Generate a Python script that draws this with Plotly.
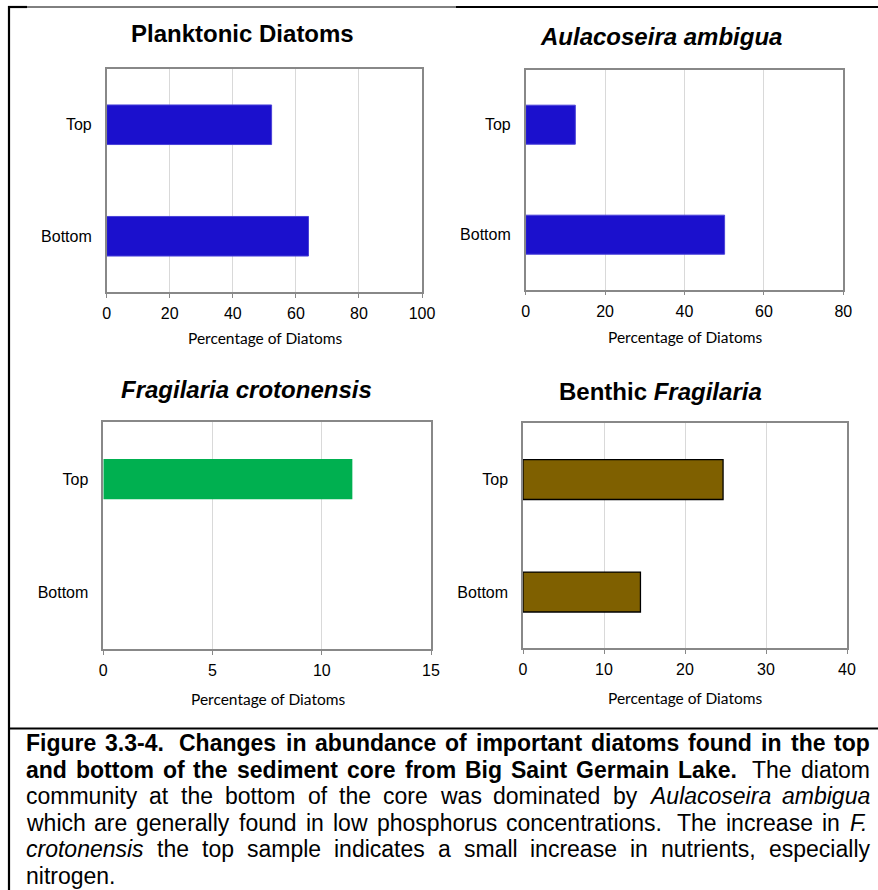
import plotly.graph_objects as go

# ---------------- data ----------------
categories = ["Bottom", "Top"]
planktonic = [64.0, 52.3]
aulacoseira = [50.1, 12.5]
crotonensis = [0.0, 11.4]
benthic = [14.5, 24.7]

titles = ["<b>Planktonic Diatoms</b>",
          "<b><i>Aulacoseira ambigua</i></b>",
          "<b><i>Fragilaria crotonensis</i></b>",
          "<b>Benthic <i>Fragilaria</i></b>"]
x_ranges = [[0, 100], [0, 80], [0, 15], [0, 40]]
x_dticks = [20, 20, 5, 10]
axis_title = "Percentage of Diatoms"

caption_lines = [
    [("b", "Figure 3.3-4.  Changes in abundance of important diatoms found in the top")],
    [("b", "and bottom of the sediment core from Big Saint Germain Lake."), ("r", "  The diatom")],
    [("r", "community at the bottom of the core was dominated by "), ("i", "Aulacoseira ambigua")],
    [("r", "which are generally found in low phosphorus concentrations.  The increase in "), ("i", "F.")],
    [("i", "crotonensis"), ("r", " the top sample indicates a small increase in nutrients, especially")],
    [("r", "nitrogen.")],
]

# ---------------- geometry helpers ----------------
W, H = 878, 890
def X(px):
    return px / W
def Y(py):
    return 1 - py / H

areas = [(106.7, 422.0, 69.0, 292.0),
         (525.7, 843.3, 69.7, 289.7),
         (103.3, 431.0, 422.3, 649.3),
         (523.0, 847.0, 423.3, 648.3)]
title_pos = [(242.5, 33), (660.5, 37), (246, 390), (660, 391)]
axtitle_pos = [(265, 338), (685, 337), (268, 699), (685, 698)]

series = [planktonic, aulacoseira, crotonensis, benthic]
colors = ["#1B10CD", "#1B10CD", "#00B050", "#7F6000"]
lines = [dict(color="#4a42d8", width=1), dict(color="#4a42d8", width=1),
         dict(color="#00B050", width=0), dict(color="#000000", width=1.3)]

FONT = "Liberation Sans, Arial, sans-serif"

fig = go.Figure()
for i, vals in enumerate(series):
    n = "" if i == 0 else str(i + 1)
    fig.add_trace(go.Bar(
        x=vals, y=categories, orientation="h",
        marker=dict(color=colors[i], line=lines[i]),
        xaxis="x" + n, yaxis="y" + n, hoverinfo="x+y",
    ))

layout = dict(
    width=W, height=H, autosize=False, margin=dict(l=0, r=0, t=0, b=0, pad=0),
    paper_bgcolor="white", plot_bgcolor="white", showlegend=False,
    bargap=0.645, font=dict(family=FONT, color="black"),
)
for i, (x0, x1, y0, y1) in enumerate(areas):
    n = "" if i == 0 else str(i + 1)
    layout["xaxis" + n] = dict(
        domain=[X(x0), X(x1)], anchor="y" + n, range=x_ranges[i], automargin=False,
        dtick=x_dticks[i], tick0=0, showgrid=True, gridcolor="#d9d9d9", gridwidth=1,
        showline=True, linecolor="#888888", linewidth=1.5, mirror=True,
        ticks="outside", ticklen=4, tickcolor="#888888", tickwidth=1,
        tickfont=dict(family=FONT, size=16, color="black"),
        ticklabelstandoff=2, zeroline=False, fixedrange=True,
    )
    layout["yaxis" + n] = dict(
        domain=[Y(y1), Y(y0)], anchor="x" + n, type="category", automargin=False,
        categoryorder="array", categoryarray=categories, range=[-0.5, 1.5],
        showgrid=False, showline=True, linecolor="#888888", linewidth=1.5, mirror=True,
        ticks="", tickfont=dict(family=FONT, size=16, color="black"),
        ticklabelstandoff=10, fixedrange=True,
    )

annotations = []
for i in range(4):
    tx, ty = title_pos[i]
    annotations.append(dict(text=titles[i], x=X(tx), y=Y(ty), xref="paper", yref="paper",
                            showarrow=False, xanchor="center", yanchor="middle",
                            font=dict(family=FONT, size=24, color="black")))
    ax, ay = axtitle_pos[i]
    annotations.append(dict(text=axis_title, x=X(ax), y=Y(ay), xref="paper", yref="paper",
                            showarrow=False, xanchor="center", yanchor="middle",
                            font=dict(family="Lato, Carlito, sans-serif", size=15.5, color="black")))

REG = dict(zip("ABCDEFGHIJKLMNOPQRSTUVWXYZ",
               [667, 667, 722, 722, 667, 611, 778, 722, 278, 500, 667, 556, 833, 722, 778,
                667, 778, 722, 667, 611, 722, 667, 944, 667, 667, 611]))
REG.update(zip("abcdefghijklmnopqrstuvwxyz",
               [556, 556, 500, 556, 556, 278, 556, 556, 222, 222, 500, 222, 833, 556, 556,
                556, 556, 333, 500, 278, 556, 500, 722, 500, 500, 500]))
BOLD = dict(zip("ABCDEFGHIJKLMNOPQRSTUVWXYZ",
                [722, 722, 722, 722, 667, 611, 778, 722, 278, 556, 722, 611, 833, 722, 778,
                 667, 778, 722, 667, 611, 722, 667, 944, 667, 667, 611]))
BOLD.update(zip("abcdefghijklmnopqrstuvwxyz",
                [556, 611, 556, 611, 556, 333, 611, 611, 278, 278, 556, 278, 889, 611, 611,
                 611, 611, 389, 556, 333, 611, 556, 778, 556, 556, 500]))
for tbl in (REG, BOLD):
    tbl.update({" ": 278, ".": 278, ",": 278, "-": 333})
    tbl.update({d: 556 for d in "0123456789"})

SIZES = {"b": 23, "r": 23, "i": 23}
def wwidth(word, style):
    tbl = BOLD if style == "b" else REG
    return sum(tbl.get(c, 556) for c in word) / 1000 * SIZES[style]

cap_left, cap_right = 25, 869
cap_y = [743, 769.6, 796.2, 822.8, 849.4, 875.5]
for li, segs in enumerate(caption_lines):
    words = []
    pending = 0
    pending_style = "r"
    for style, text in segs:
        buf = ""
        for ch in text:
            if ch == " ":
                if buf:
                    words.append([buf, style, pending, pending_style])
                    buf = ""
                    pending = 0
                pending += 1
                pending_style = style
            else:
                buf += ch
        if buf:
            words.append([buf, style, pending, pending_style])
            pending = 0
    natural_words = sum(wwidth(w[0], w[1]) for w in words)
    gaps = [w[2] * wwidth(" ", w[3]) for w in words[1:]]
    last = li == len(caption_lines) - 1
    extra = 0
    if not last and len(gaps) > 0:
        extra = (cap_right - cap_left - natural_words - sum(gaps)) / len(gaps)
    xcur = cap_left
    for k, (w, style, npre, _) in enumerate(words):
        if k > 0:
            xcur += gaps[k - 1] + extra
        txt = w
        if style == "b":
            txt = "<b>" + w + "</b>"
        elif style == "i":
            txt = "<i>" + w + "</i>"
        annotations.append(dict(text=txt, x=X(xcur - 1), y=Y(cap_y[li]), xref="paper", yref="paper",
                                showarrow=False, xanchor="left", yanchor="middle",
                                font=dict(family=FONT, size=SIZES[style], color="black")))
        xcur += wwidth(w, style)
layout["annotations"] = annotations

def hline(x0, x1, y, w):
    return dict(type="line", xref="paper", yref="paper", x0=X(x0), x1=X(x1), y0=Y(y), y1=Y(y),
                line=dict(color="black", width=w))
def vline(x, y0, y1, w):
    return dict(type="line", xref="paper", yref="paper", x0=X(x), x1=X(x), y0=Y(y0), y1=Y(y1),
                line=dict(color="black", width=w))
layout["shapes"] = [
    hline(8, 456, 7, 1),
    hline(8, 27, 7, 2.2),
    hline(456, 878, 7, 2.2),
    vline(9, 6, 890, 2.2),
    hline(8, 878, 728.5, 2.2),
]

fig.update_layout(**layout)
fig.write_html("out.html",
               config={"responsive": False, "displayModeBar": False},
               post_script="document.body.style.margin='0';document.body.style.overflow='hidden';")
